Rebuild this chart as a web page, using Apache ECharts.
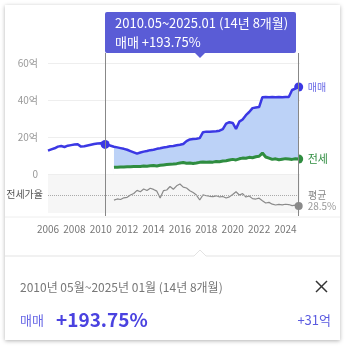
<!DOCTYPE html>
<html>
<head>
<meta charset="utf-8">
<script src="https://cdn.jsdelivr.net/npm/echarts@6/dist/echarts.min.js"></script>
<style>
  body { margin: 0; background: #fff; }
  #card { position: absolute; left: 5px; top: 5px; width: 335px; height: 335px; background: #fff; box-shadow: 0 1px 4px rgba(0,0,0,0.3); }
  #chart { position: absolute; left: 0; top: 0; width: 352px; height: 352px; }
</style>
</head>
<body>
<div id="card"></div>
<div id="chart"></div>
<script>
// 분기별 값 (억), 2006.00 부터 0.25년 간격
var saleStart = 2006
var sale = [
  12.6, 13.3, 13.9, 14.8,
  15.1, 14.6, 15.3, 15.6,
  15.9, 16.1, 14.8, 15.0,
  15.4, 15.8, 16.2, 16.5,
  16.6, 16.3, 15.9, 15.3,
  14.7, 14.4, 14.0, 13.6,
  13.1, 12.4, 11.7, 11.0,
  11.6, 12.1, 12.4, 12.9,
  13.1, 13.6, 13.9, 14.3,
  14.6, 15.0, 15.1, 15.5,
  15.8, 16.2, 17.8, 18.7,
  18.9, 19.1, 19.4, 22.6,
  22.9, 22.9, 23.0, 23.1,
  23.4, 24.2, 27.2, 28.0,
  27.6, 24.4, 28.3, 29.5,
  31.8, 33.5, 35.6, 35.9,
  36.2, 41.5, 41.6, 41.5,
  41.6, 41.5, 41.6, 41.5,
  41.6, 41.6, 45.4, 46.2,
  47.0
]
var jeonseStart = 2011
var jeonse = [
  3.6, 3.7, 3.8, 3.8,
  3.9, 3.9, 4.0, 4.0,
  4.1, 4.3, 4.2, 4.4,
  4.6, 4.3, 4.7, 4.9,
  5.1, 5.3, 5.4, 5.6,
  5.9, 6.2, 5.8, 6.0,
  5.7, 5.9, 6.3, 6.5,
  6.4, 6.5, 6.4, 6.8,
  6.6, 7.0, 7.2, 7.6,
  7.9, 7.6, 8.2, 8.6,
  8.5, 9.0, 8.8, 9.3,
  9.6, 11.3, 9.2, 8.6,
  7.9, 8.2, 7.7, 8.0,
  8.3, 8.1, 7.9, 8.2,
  8.1
]
// 전세가율 (%)
var ratio = [
  23.5, 24.8, 24.2, 26.0,
  26.5, 28.9, 30.5, 33.8,
  32.4, 35.2, 33.6, 36.0,
  34.8, 33.0, 25.8, 33.5,
  34.2, 37.9, 35.0, 38.6,
  40.5, 37.2, 36.3, 33.4,
  31.5, 28.9, 23.7, 29.0,
  28.2, 27.6, 27.2, 28.1,
  26.9, 27.4, 25.8, 27.0,
  29.5, 32.4, 29.0, 30.4,
  26.8, 27.9, 25.1, 24.7,
  25.6, 23.0, 20.5, 21.2,
  19.3, 18.4, 19.0, 18.6,
  19.2, 18.9, 17.8, 18.2,
  17.4
]
var ratioAvg = 28.5
var yearTicks = [2006, 2008, 2010, 2012, 2014, 2016, 2018, 2020, 2022, 2024]

// 선택 구간
var selStart = 2010 + 4 / 12
var selEnd = 2025
var startValue = 16
var endValue = 47
var jeonseEnd = 8.1
var ratioEnd = 17.4

var step = 0.25
var saleData = sale.map(function (v, i) { return [saleStart + i * step, v] })
var jeonseData = jeonse.map(function (v, i) { return [jeonseStart + i * step, v] })
var ratioData = ratio.map(function (v, i) { return [jeonseStart + i * step, v] })
var offset = (jeonseStart - saleStart) / step
var saleFillData = saleData.slice(offset)

var font = "'Noto Sans CJK KR', 'Noto Sans', sans-serif"
var purple = '#5a5cd6'

var chart = echarts.init(document.getElementById('chart'))
var xBase = { type: 'value', min: 2006, max: 2025.1 }

chart.setOption({
  animation: false,
  textStyle: { fontFamily: font },
  grid: [
    { left: 48, right: 52, top: 63, height: 111 },
    { left: 48, right: 52, top: 175, height: 38, show: true, backgroundColor: '#f6f6f6', borderWidth: 0 },
    { left: 48, right: 52, top: 53, height: 163 }
  ],
  xAxis: [
    Object.assign({ gridIndex: 0, show: false }, xBase),
    Object.assign({
      gridIndex: 1, interval: 2,
      axisLine: { show: false }, axisTick: { show: false }, splitLine: { show: false },
      axisLabel: {
        color: '#777', fontSize: 10, margin: 11, showMaxLabel: false,
        formatter: function (v) { return yearTicks.indexOf(v) >= 0 ? String(v) : '' }
      }
    }, xBase),
    Object.assign({ gridIndex: 2, show: false }, xBase)
  ],
  yAxis: [
    {
      gridIndex: 0, type: 'value', min: 0, max: 60, interval: 20,
      axisLine: { show: false }, axisTick: { show: false },
      splitLine: { lineStyle: { color: '#eeeeee' } },
      axisLabel: { color: '#999', fontSize: 10, margin: 10, formatter: function (v) { return v === 0 ? '0' : v + '억' } }
    },
    {
      gridIndex: 1, type: 'value', min: 10, max: 50,
      axisLine: { show: false }, axisTick: { show: false }, splitLine: { show: false }, axisLabel: { show: false },
      name: '전세가율', nameLocation: 'middle', nameRotate: 0, nameGap: 5,
      nameTextStyle: { color: '#555', fontSize: 10, align: 'right' }
    },
    { gridIndex: 2, type: 'value', min: 0, max: 1, show: false }
  ],
  series: [
    {
      // 매매~전세 사이 채우기
      type: 'line', xAxisIndex: 0, yAxisIndex: 0, data: saleFillData,
      symbol: 'none', lineStyle: { opacity: 0 }, silent: true,
      areaStyle: { color: '#bcd2f7', opacity: 1 }
    },
    {
      type: 'line', xAxisIndex: 0, yAxisIndex: 0, data: jeonseData,
      symbol: 'none', lineStyle: { opacity: 0 }, silent: true,
      areaStyle: { color: '#ffffff', opacity: 1 }
    },
    {
      name: '전세', type: 'line', xAxisIndex: 0, yAxisIndex: 0, data: jeonseData,
      symbol: 'none', lineStyle: { color: '#2f8d40', width: 3 },
      endLabel: { show: true, formatter: '전세', color: '#2f8d40', fontSize: 11, distance: 9 }
    },
    {
      name: '매매', type: 'line', xAxisIndex: 0, yAxisIndex: 0, data: saleData,
      symbol: 'none', lineStyle: { color: '#3b38e4', width: 2.5 },
      endLabel: { show: true, formatter: '매매', color: '#6a6ae6', fontSize: 10, distance: 9 }
    },
    {
      type: 'scatter', xAxisIndex: 0, yAxisIndex: 0, symbolSize: 9,
      itemStyle: { color: '#3b38e4', opacity: 1 }, data: [[selStart, startValue], [selEnd, endValue]]
    },
    {
      type: 'scatter', xAxisIndex: 0, yAxisIndex: 0, symbolSize: 9,
      itemStyle: { color: '#2f8d40', opacity: 1 }, data: [[selEnd, jeonseEnd]]
    },
    {
      name: '전세가율', type: 'line', xAxisIndex: 1, yAxisIndex: 1, data: ratioData,
      symbol: 'none', lineStyle: { color: '#8a8a8a', width: 1.2 },
      endLabel: { show: true, formatter: ratioAvg + '%', color: '#999', fontSize: 10, distance: 9 },
      markLine: {
        silent: true, symbol: 'none',
        lineStyle: { color: '#aaa', type: 'dotted', width: 1 },
        label: { show: true, position: 'end', formatter: '평균', color: '#888', fontSize: 10, distance: 8 },
        data: [{ yAxis: ratioAvg }]
      }
    },
    {
      type: 'scatter', xAxisIndex: 1, yAxisIndex: 1, symbolSize: 8,
      itemStyle: { color: '#8a8a8a', opacity: 1 }, data: [[selEnd, ratioEnd]]
    },
    {
      type: 'line', xAxisIndex: 2, yAxisIndex: 2, data: [],
      markLine: {
        silent: true, symbol: 'none', label: { show: false },
        lineStyle: { color: '#888', type: 'solid', width: 1 },
        data: [{ xAxis: selStart }, { xAxis: selEnd }]
      }
    }
  ],
  graphic: [
    { type: 'rect', shape: { x: 105, y: 12, width: 191, height: 41, r: 2 }, style: { fill: purple } },
    { type: 'polygon', shape: { points: [[194, 52], [206, 52], [200, 58]] }, style: { fill: purple } },
    { type: 'text', x: 115, y: 23, style: { text: '2010.05~2025.01 (14년 8개월)', fill: '#fff', font: '13px ' + font, verticalAlign: 'middle' } },
    { type: 'text', x: 115, y: 42, style: { text: '매매 +193.75%', fill: '#fff', font: '13px ' + font, verticalAlign: 'middle' } },
    { type: 'line', shape: { x1: 5, y1: 217, x2: 340, y2: 217 }, style: { stroke: '#eeeeee', lineWidth: 1 } },
    { type: 'polyline', shape: { points: [[5, 256], [194, 256], [200, 250], [206, 256], [340, 256]] }, style: { stroke: '#e3e3e3', lineWidth: 1, fill: null } },
    { type: 'text', x: 20, y: 287, style: { text: '2010년 05월~2025년 01월 (14년 8개월)', fill: '#777', font: '12px ' + font, verticalAlign: 'middle' } },
    { type: 'line', shape: { x1: 316, y1: 281, x2: 327, y2: 292 }, style: { stroke: '#333', lineWidth: 1.5 } },
    { type: 'line', shape: { x1: 327, y1: 281, x2: 316, y2: 292 }, style: { stroke: '#333', lineWidth: 1.5 } },
    { type: 'text', x: 20, y: 320, style: { text: '매매', fill: '#6a6ae6', font: '13px ' + font, verticalAlign: 'middle' } },
    { type: 'text', x: 56, y: 320, style: { text: '+193.75%', fill: '#4a42e0', font: 'bold 19px ' + font, verticalAlign: 'middle' } },
    { type: 'text', x: 331, y: 320, style: { text: '+31억', fill: '#5b5be0', font: '13px ' + font, verticalAlign: 'middle', align: 'right' } }
  ]
})
</script>
</body>
</html>
